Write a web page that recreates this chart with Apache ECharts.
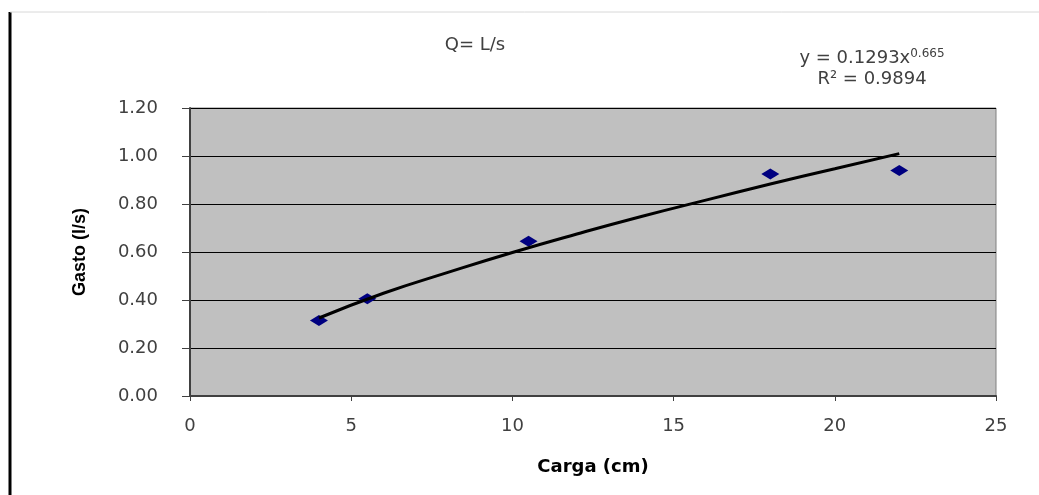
<!DOCTYPE html>
<html>
<head>
<meta charset="utf-8">
<script src="https://cdn.jsdelivr.net/npm/echarts@6/dist/echarts.min.js"></script>
<style>
  html, body { margin: 0; padding: 0; background: #fff; }
  #chart { width: 1039px; height: 495px; }
</style>
</head>
<body>
<div id="chart"></div>
<script>
// puntos medidos
const carga = [4, 5.5, 10.5, 18, 22];
const gasto = [0.315, 0.405, 0.645, 0.925, 0.94];
// linea de tendencia (potencial)
const trendX = [4, 6, 8, 10, 12, 14, 16, 18, 20, 22];
const trendY = [0.325, 0.428, 0.515, 0.598, 0.675, 0.748, 0.816, 0.883, 0.947, 1.01];
const xTicks = [0, 5, 10, 15, 20, 25];
const yTicks = [0, 0.2, 0.4, 0.6, 0.8, 1.0, 1.2];

let chart = echarts.init(document.getElementById('chart'));

let option = {
  animation: false,
  backgroundColor: '#fff',
  graphic: [
    { type: 'line', shape: { x1: 10, y1: 12, x2: 10, y2: 495 }, style: { stroke: '#000', lineWidth: 3 } },
    { type: 'line', shape: { x1: 10, y1: 12, x2: 1039, y2: 12 }, style: { stroke: '#d8d8d8', lineWidth: 1 } },
    {
      type: 'text', x: 475, y: 36,
      style: { text: 'Q= L/s', textAlign: 'center', font: '18px "DejaVu Sans"', fill: '#404040' }
    },
    {
      type: 'text', x: 872, y: 48,
      style: {
        text: '{a|y = 0.1293x}{s|0.665}\n{a|R² = 0.9894}',
        textAlign: 'center',
        fill: '#404040',
        rich: {
          a: { font: '18px "DejaVu Sans"', fill: '#404040', lineHeight: 21 },
          s: { font: '12px "DejaVu Sans"', fill: '#404040', verticalAlign: 'top', lineHeight: 21 }
        }
      }
    }
  ],
  grid: {
    left: 190, right: 43, top: 108, bottom: 99,
    show: true, backgroundColor: '#c0c0c0', borderColor: '#808080', borderWidth: 1
  },
  xAxis: {
    type: 'value',
    min: xTicks[0], max: xTicks[xTicks.length - 1], interval: 5,
    name: 'Carga (cm)', nameLocation: 'middle', nameGap: 62,
    nameTextStyle: { fontFamily: 'DejaVu Sans', fontWeight: 'bold', fontSize: 18, color: '#000' },
    axisLine: { onZero: false, lineStyle: { color: '#404040', width: 2 } },
    axisTick: { show: true, inside: false, length: 5, lineStyle: { color: '#404040' } },
    axisLabel: { margin: 21, fontFamily: 'DejaVu Sans', fontSize: 18, color: '#404040' },
    splitLine: { show: false }
  },
  yAxis: {
    type: 'value',
    min: yTicks[0], max: yTicks[yTicks.length - 1], interval: 0.2,
    name: 'Gasto (l/s)', nameLocation: 'middle', nameGap: 101, nameRotate: 90,
    nameTextStyle: { fontFamily: 'Liberation Sans', fontWeight: 'bold', fontSize: 18, color: '#000' },
    axisLine: { show: true, lineStyle: { color: '#404040', width: 2 } },
    axisTick: { show: true, inside: false, length: 8, lineStyle: { color: '#404040' } },
    axisLabel: {
      margin: 32, fontFamily: 'DejaVu Sans', fontSize: 18, color: '#404040',
      formatter: (value) => value.toFixed(2)
    },
    splitLine: { lineStyle: { color: '#000', width: 1 } }
  },
  series: [
    {
      name: 'Gasto',
      type: 'scatter',
      symbol: 'diamond',
      symbolSize: [18, 11],
      itemStyle: { color: '#000080', opacity: 1 },
      data: carga.map((c, i) => [c, gasto[i]])
    },
    {
      name: 'Tendencia',
      type: 'line',
      smooth: true,
      showSymbol: false,
      lineStyle: { color: '#000', width: 3 },
      data: trendX.map((x, i) => [x, trendY[i]])
    }
  ]
};

chart.setOption(option);
</script>
</body>
</html>
